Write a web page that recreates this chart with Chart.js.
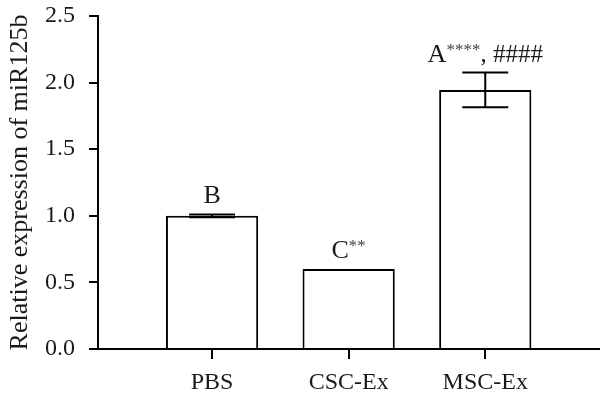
<!DOCTYPE html>
<html>
<head>
<meta charset="utf-8">
<script src="https://cdn.jsdelivr.net/npm/chart.js@4/dist/chart.umd.min.js"></script>
<style>
  html, body { margin: 0; padding: 0; background: #fff; }
  #wrap { width: 600px; height: 399px; }
</style>
</head>
<body>
<div id="wrap"><canvas id="chart"></canvas></div>
<script>
const categories = ['PBS', 'CSC-Ex', 'MSC-Ex'];
const means = [1.0, 0.6, 1.945];
const errors = [0.01, 0, 0.13];
const letters = ['B', 'C', 'A'];
const stars = ['', '**', '****'];
const hashes = ['', '', ', ####'];
const yTicks = [0, 0.5, 1.0, 1.5, 2.0, 2.5];

const FONT = "'Liberation Serif', 'DejaVu Serif', serif";
const INK = '#1a1a1a';

// error bars + significance letters on top of each bar
const errorBarPlugin = {
    id: 'errorBars',
    afterDatasetsDraw(chart) {
        const ctx = chart.ctx;
        const xs = chart.scales.x;
        const ys = chart.scales.y;
        ctx.save();
        ctx.strokeStyle = '#000';
        ctx.lineWidth = 2;
        means.forEach((m, i) => {
            const cx = xs.getPixelForValue(i + 1);
            const e = errors[i];
            const top = ys.getPixelForValue(m + e);
            const bot = ys.getPixelForValue(m - e);
            const half = 23;
            if (e > 0) {
                ctx.beginPath();
                ctx.moveTo(cx, top); ctx.lineTo(cx, bot);
                ctx.moveTo(cx - half, top); ctx.lineTo(cx + half, top);
                ctx.moveTo(cx - half, bot); ctx.lineTo(cx + half, bot);
                ctx.stroke();
            }

            // label: letter, small raised stars, then rest
            const parts = [
                { t: letters[i], font: '26px ' + FONT, dy: 0, color: INK },
                { t: stars[i], font: '17px ' + FONT, dy: -7, color: '#444' },
                { t: hashes[i], font: '25px ' + FONT, dy: 0, color: INK }
            ];
            let total = 0;
            parts.forEach(p => { ctx.font = p.font; p.w = ctx.measureText(p.t).width; total += p.w; });
            let x = cx - total / 2;
            const base = top - 11;
            ctx.textBaseline = 'alphabetic';
            ctx.textAlign = 'left';
            parts.forEach(p => {
                ctx.font = p.font;
                ctx.fillStyle = p.color;
                ctx.fillText(p.t, x, base + p.dy);
                x += p.w;
            });
        });
        ctx.restore();
    }
};

new Chart(document.getElementById('chart'), {
    type: 'bar',
    data: {
        datasets: [{
            data: means.map((v, i) => ({ x: i + 1, y: v })),
            backgroundColor: '#fff',
            borderColor: '#000',
            borderWidth: 2,
            barPercentage: 0.675,
            categoryPercentage: 1
        }]
    },
    options: {
        responsive: true,
        maintainAspectRatio: false,
        animation: false,
        layout: { padding: { top: 16, right: 0, left: 0, bottom: 0 } },
        plugins: { legend: { display: false }, tooltip: { enabled: false } },
        scales: {
            x: {
                type: 'linear',
                offset: false,
                min: 0.165,
                max: 3.84,
                afterBuildTicks: scale => { scale.ticks = categories.map((c, i) => ({ value: i + 1 })); },
                afterFit: scale => {
                    scale.height = 50;
                    scale.paddingLeft = 0;
                    scale.paddingRight = 0;
                },
                ticks: {
                    callback: v => categories[v - 1],
                    font: { family: FONT, size: 24 },
                    color: INK,
                    padding: 9,
                    maxRotation: 0
                },
                grid: { offset: false, drawOnChartArea: false, color: '#000', lineWidth: 2, tickLength: 10 },
                border: { color: '#000', width: 2 }
            },
            y: {
                min: 0,
                max: 2.5,
                afterBuildTicks: scale => { scale.ticks = yTicks.map(v => ({ value: v })); },
                afterFit: scale => {
                    scale.width = 98;
                    scale.paddingTop = 0;
                    scale.paddingBottom = 0;
                },
                ticks: {
                    callback: v => v.toFixed(1),
                    font: { family: FONT, size: 24 },
                    color: INK,
                    padding: 14
                },
                grid: { drawOnChartArea: false, color: '#000', lineWidth: 2, tickLength: 9 },
                border: { color: '#000', width: 2 },
                title: {
                    display: true,
                    text: 'Relative expression of miR125b',
                    font: { family: FONT, size: 26 },
                    color: INK,
                    padding: { top: 5, bottom: 0 }
                }
            }
        }
    },
    plugins: [errorBarPlugin]
});
</script>
</body>
</html>
